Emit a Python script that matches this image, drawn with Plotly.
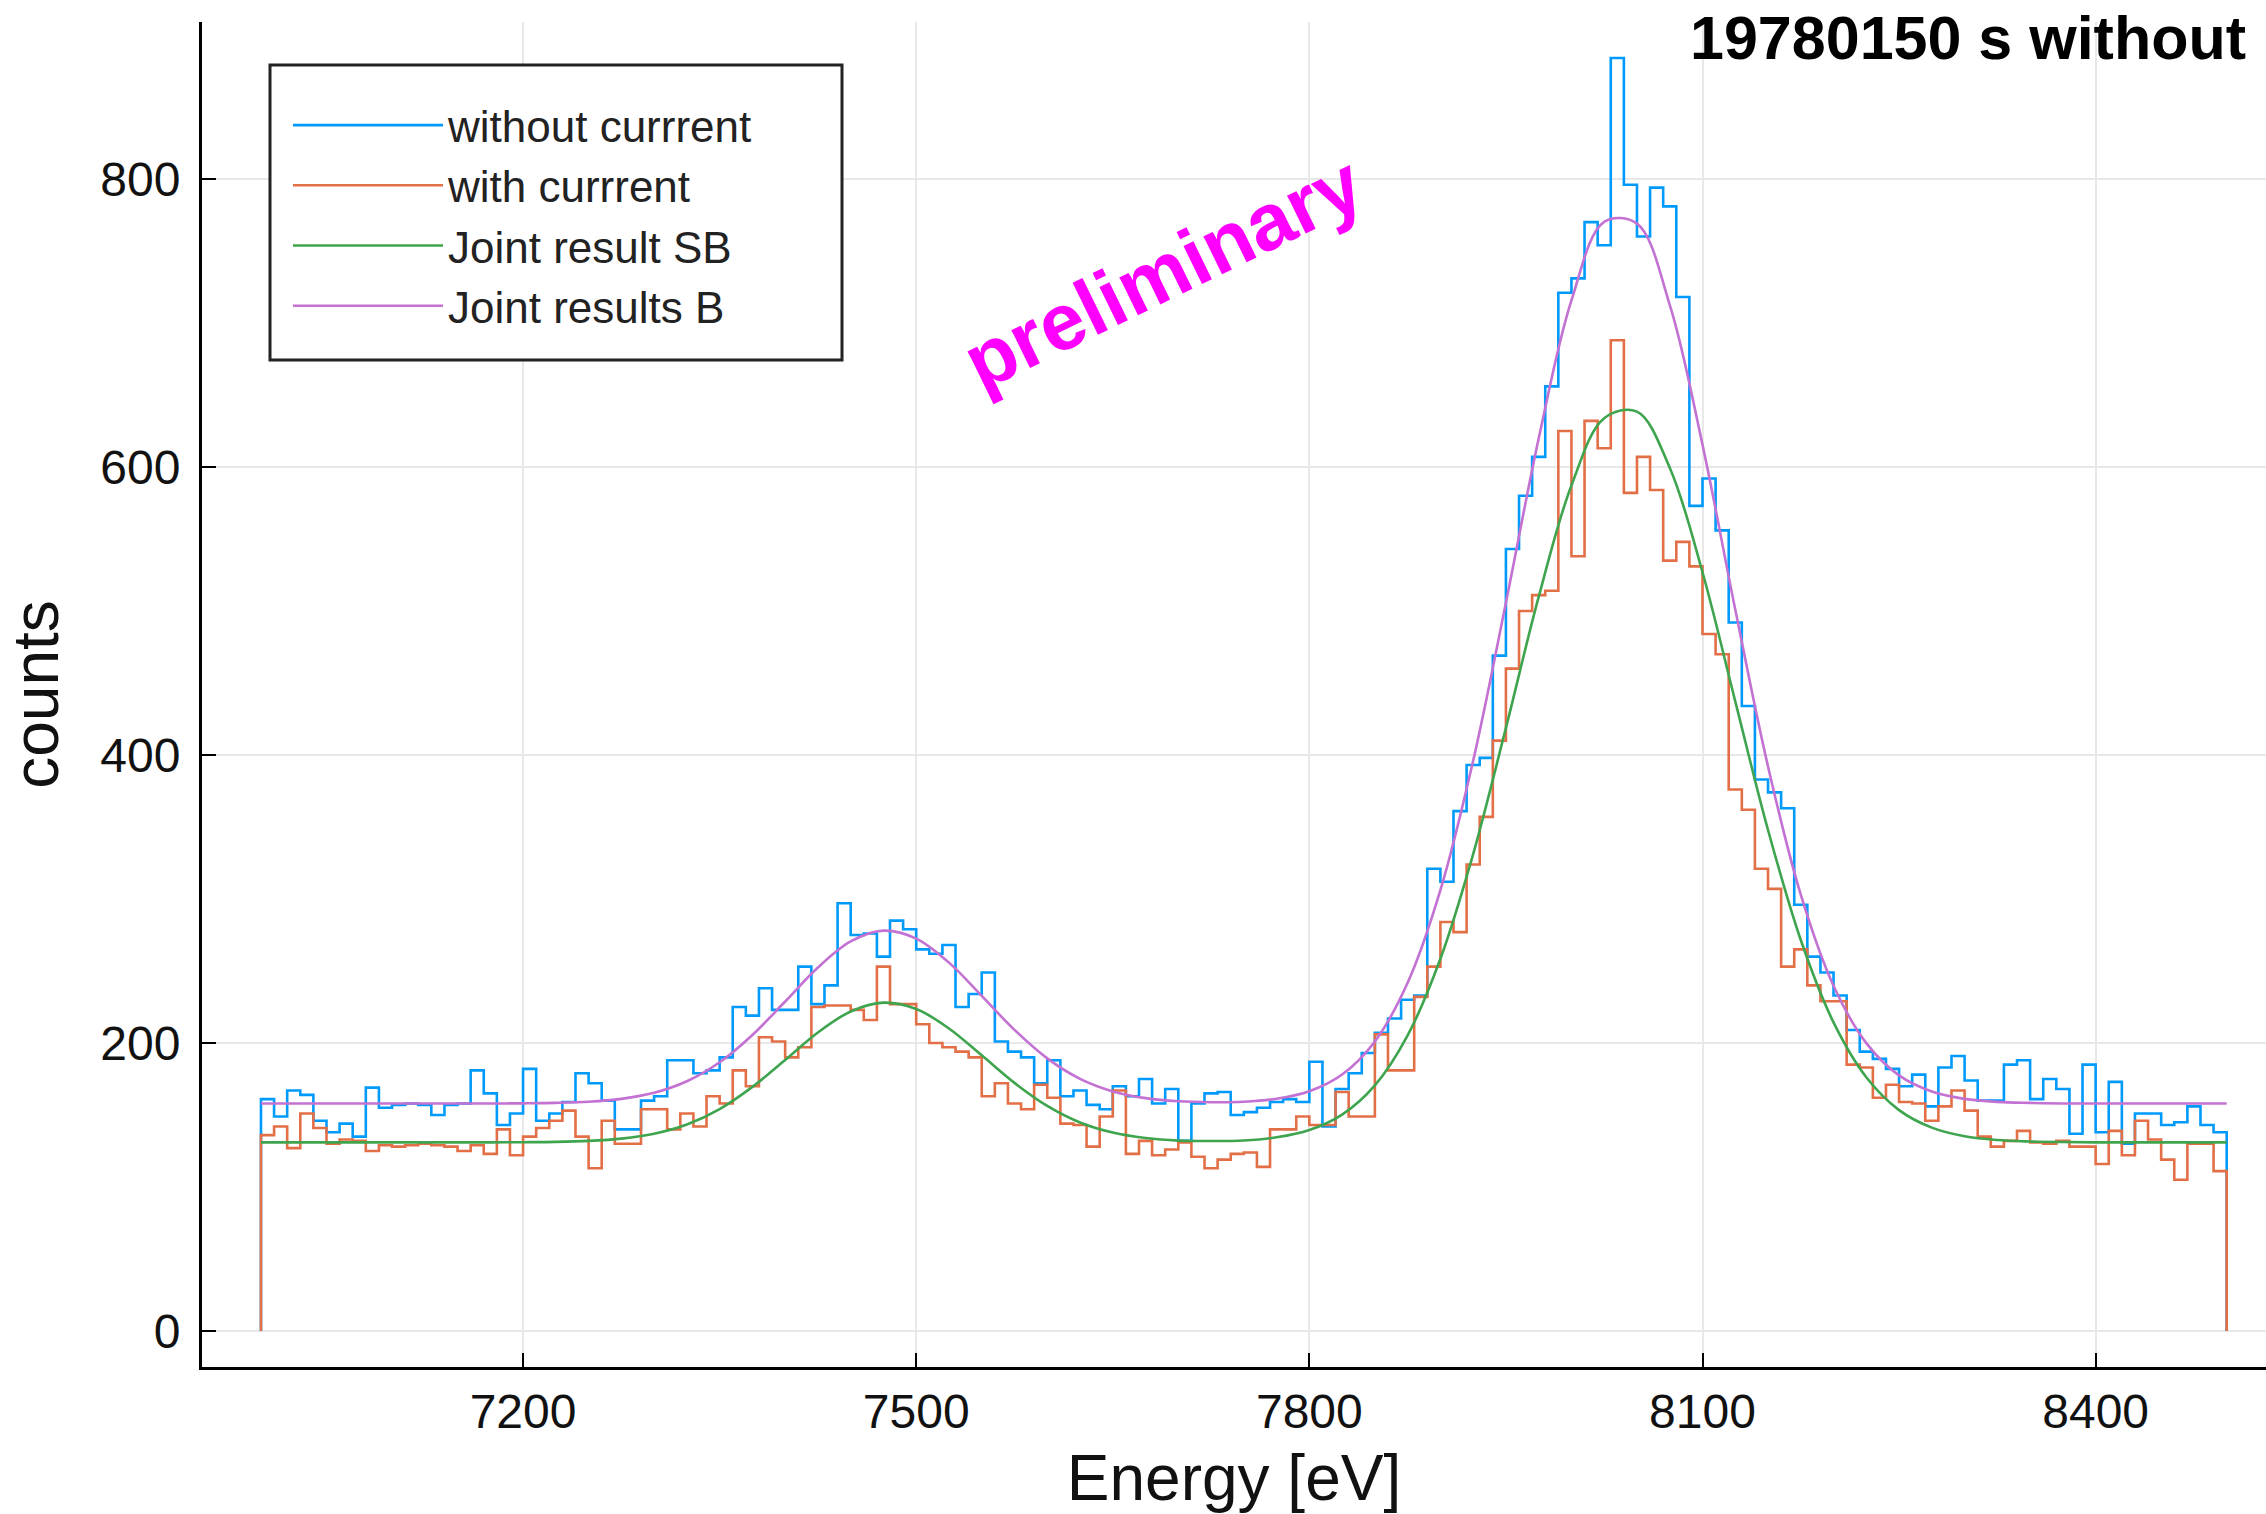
import plotly.graph_objects as go

# ---------------- data ----------------
bin_width = 10
bin_left = list(range(7000, 8500, bin_width))  # 150 bins, 10 eV wide

without_current = [
    161, 149, 167, 164, 146, 138, 144, 135, 169, 155,
    157, 158, 157, 150, 157, 158, 181, 165, 143, 151,
    182, 146, 151, 159, 179, 172, 160, 140, 140, 160,
    163, 188, 188, 179, 181, 190, 225, 219, 238, 223,
    223, 253, 227, 240, 297, 275, 276, 260, 285, 279,
    265, 262, 268, 225, 234, 249, 201, 194, 190, 172,
    188, 163, 167, 157, 154, 170, 163, 175, 158, 168,
    132, 158, 165, 166, 150, 152, 155, 159, 161, 159,
    187, 142, 168, 179, 193, 207, 217, 230, 233, 321,
    312, 361, 393, 398, 469, 543, 580, 607, 656, 721,
    731, 770, 754, 884, 796, 760, 794, 781, 718, 573,
    592, 556, 492, 434, 383, 374, 363, 296, 260, 249,
    233, 209, 194, 189, 182, 170, 178, 156, 183, 191,
    174, 160, 160, 185, 188, 161, 175, 168, 137, 185,
    138, 173, 130, 151, 151, 143, 145, 156, 143, 138,
]

with_current = [
    136, 142, 127, 151, 141, 130, 133, 132, 125, 129,
    128, 129, 130, 129, 128, 125, 129, 123, 140, 122,
    135, 141, 146, 153, 135, 113, 146, 130, 130, 154,
    154, 140, 151, 142, 163, 158, 181, 170, 204, 201,
    190, 197, 225, 226, 226, 223, 216, 253, 227, 227,
    213, 200, 197, 194, 190, 163, 172, 158, 154, 171,
    162, 144, 143, 128, 149, 167, 123, 132, 122, 126,
    131, 121, 113, 119, 123, 124, 114, 140, 140, 149,
    143, 143, 166, 149, 149, 206, 181, 181, 232, 253,
    284, 277, 324, 357, 410, 460, 500, 511, 514, 625,
    538, 632, 613, 688, 582, 607, 584, 535, 548, 531,
    484, 470, 376, 362, 321, 307, 253, 265, 240, 229,
    229, 185, 183, 162, 171, 159, 158, 146, 156, 167,
    153, 135, 128, 132, 139, 131, 130, 132, 128, 128,
    116, 139, 122, 146, 133, 119, 105, 130, 130, 111,
]

fit_energy = list(range(7000, 8525, 25))

joint_sb = [
    131.0, 131.0, 131.0, 131.0, 131.0, 131.0, 131.0, 131.0,
    131.1, 131.3, 132.0, 133.6, 137.0, 143.4, 154.1, 169.5,
    188.2, 207.3, 221.9, 228.0, 223.6, 210.1, 191.4, 172.3,
    156.3, 144.8, 137.8, 134.0, 132.2, 131.9, 132.3, 134.5,
    139.6, 150.3, 170.6, 205.3, 258.5, 331.2, 418.8, 509.8,
    587.2, 633.9, 638.4, 599.5, 526.9, 437.2, 347.9, 271.5,
    214.3, 176.2, 153.4, 141.2, 135.2, 132.6, 131.6, 131.2,
    131.0, 131.0, 131.0, 131.0, 131.0,
]

joint_b = [
    158.0, 158.0, 158.0, 158.0, 158.0, 158.0, 158.0, 158.0,
    158.1, 158.4, 159.2, 161.2, 165.4, 173.4, 186.6, 205.6,
    228.8, 252.4, 270.5, 278.0, 272.5, 255.8, 232.7, 209.1,
    189.3, 175.1, 166.4, 161.7, 159.5, 158.9, 159.2, 161.3,
    166.5, 178.1, 201.1, 241.8, 306.1, 396.0, 505.7, 619.8,
    715.7, 770.2, 769.0, 712.6, 615.4, 501.0, 392.0, 303.0,
    239.7, 199.9, 177.5, 166.3, 161.2, 159.1, 158.4, 158.0,
    158.0, 158.0, 158.0, 158.0, 158.0,
]

series_names = ["without currrent", "with currrent", "Joint result SB", "Joint results B"]
x_ticks = [7200, 7500, 7800, 8100, 8400]
y_ticks = [0, 200, 400, 600, 800]
title_text = "19780150 s without"
watermark = "preliminary"

colors = ["#009AFA", "#E36F47", "#3EA44E", "#C371D2"]
FONT = "Liberation Sans, Arial, sans-serif"


def step_xy(counts):
    xs = [bin_left[0]] + bin_left + [bin_left[-1] + bin_width] * 2
    ys = [0] + counts + [counts[-1], 0]
    return xs, ys


fig = go.Figure()
for name, counts, col in [(series_names[0], without_current, colors[0]),
                          (series_names[1], with_current, colors[1])]:
    xs, ys = step_xy(counts)
    fig.add_trace(go.Scatter(x=xs, y=ys, mode="lines", name=name,
                             line=dict(color=col, width=2.6, shape="hv")))

fig.add_trace(go.Scatter(x=fit_energy, y=joint_sb, mode="lines", name=series_names[2],
                         line=dict(color=colors[2], width=2.6, shape="spline")))
fig.add_trace(go.Scatter(x=fit_energy, y=joint_b, mode="lines", name=series_names[3],
                         line=dict(color=colors[3], width=2.6, shape="spline")))

W, H = 2266, 1514
L, R, T, B = 202, 0, 22, 147
pw, ph = W - L - R, H - T - B


def px_x(px):
    return (px - L) / pw


def px_y(py):
    return (H - B - py) / ph


fig.update_layout(
    width=W, height=H,
    margin=dict(l=L, r=R, t=T, b=B, pad=0),
    paper_bgcolor="white", plot_bgcolor="white",
    font=dict(family=FONT, color="black"),
    showlegend=True,
    legend=dict(
        x=px_x(288), y=px_y(90), xanchor="left", yanchor="top",
        borderwidth=0, bgcolor="rgba(0,0,0,0)",
        font=dict(size=44, family=FONT, color="#222222"),
        itemwidth=150, tracegroupgap=0,
    ),
    xaxis=dict(
        range=[6955, 8530], tickvals=x_ticks, ticktext=[str(v) for v in x_ticks],
        showgrid=True, gridcolor="#E8E8E8", gridwidth=2,
        zeroline=False, showline=True, linecolor="black", linewidth=3,
        ticks="inside", ticklen=14, tickwidth=2, tickcolor="black",
        tickfont=dict(size=48, family=FONT, color="#111111"),
        title=dict(text="Energy [eV]", font=dict(size=64, family=FONT, color="#111111"), standoff=26),
    ),
    yaxis=dict(
        range=[-25, 909], tickvals=y_ticks, ticktext=[str(v) for v in y_ticks],
        showgrid=True, gridcolor="#E8E8E8", gridwidth=2,
        zeroline=False, showline=True, linecolor="black", linewidth=3,
        ticks="inside", ticklen=14, tickwidth=2, tickcolor="black",
        ticklabelstandoff=9,
        tickfont=dict(size=48, family=FONT, color="#111111"),
        title=dict(text="counts", font=dict(size=64, family=FONT, color="#111111"), standoff=22),
    ),
)

# legend frame (opaque box behind the native legend)
fig.add_shape(
    type="rect", xref="paper", yref="paper",
    x0=px_x(270), x1=px_x(842), y0=px_y(360), y1=px_y(65),
    line=dict(color="#222222", width=3), fillcolor="white", layer="above",
)

fig.add_annotation(
    xref="paper", yref="paper", x=px_x(1688), y=px_y(38),
    xanchor="left", yanchor="middle", showarrow=False,
    text=f"<b>{title_text}</b>", font=dict(size=61, family=FONT, color="black"),
)
fig.add_annotation(
    xref="paper", yref="paper", x=px_x(1163), y=px_y(272),
    xanchor="center", yanchor="middle", showarrow=False, textangle=-26,
    text=f"<b>{watermark}</b>", font=dict(size=80, family=FONT, color="#FF00FF"),
)

fig.write_html("out.html")
